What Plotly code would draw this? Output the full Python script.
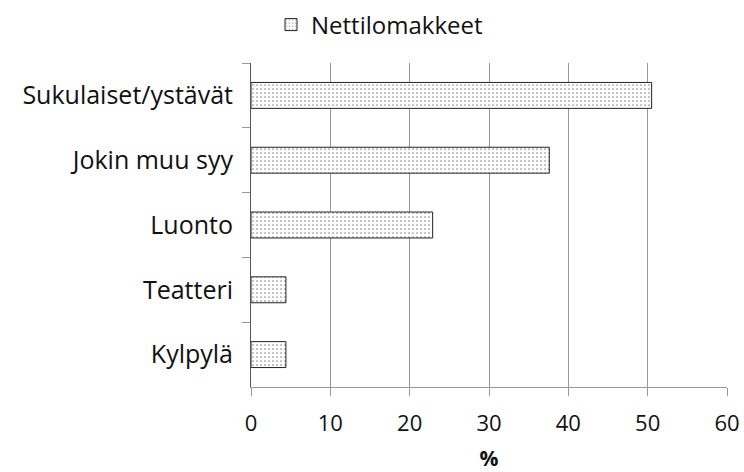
import plotly.graph_objects as go

categories = ["Sukulaiset/ystävät", "Jokin muu syy", "Luonto", "Teatteri", "Kylpylä"]
values = [50.5, 37.6, 22.9, 4.4, 4.4]
series_name = "Nettilomakkeet"
x_ticks = [0, 10, 20, 30, 40, 50, 60]

font_family = "Open Sans, Liberation Sans, sans-serif"

fig = go.Figure()
fig.add_trace(go.Bar(
    y=categories,
    x=values,
    orientation="h",
    name=series_name,
    width=0.4,
    marker=dict(
        color="white",
        line=dict(color="#222222", width=1),
        pattern=dict(shape=".", fgcolor="#222222", bgcolor="white", size=4, solidity=0.15),
    ),
    showlegend=True,
))

fig.update_layout(
    width=744, height=472,
    margin=dict(l=251, r=17, t=63, b=85, autoexpand=False),
    paper_bgcolor="white", plot_bgcolor="white",
    font=dict(family=font_family, size=22, color="#111111"),
    showlegend=True,
    legend=dict(
        orientation="h", x=(271 - 251) / 476, xanchor="left",
        yref="container", y=1 - 25 / 472, yanchor="middle",
        font=dict(size=24), itemwidth=30,
    ),
    bargap=0.6,
)
fig.update_xaxes(
    range=[0, 60], tickvals=x_ticks, ticktext=[str(t) for t in x_ticks],
    showgrid=True, gridcolor="#999999", gridwidth=1,
    showline=True, linecolor="#999999", linewidth=1,
    ticks="outside", ticklen=8, tickcolor="#999999",
    zeroline=False, ticklabelstandoff=9, automargin=False,
    tickfont=dict(size=22),
    title=dict(text="<b>%</b>", font=dict(size=21), standoff=14),
)
fig.update_yaxes(
    categoryorder="array", categoryarray=categories, autorange="reversed",
    showline=True, linecolor="#555555", linewidth=1,
    ticks="outside", ticklen=8, tickcolor="#999999", tickson="boundaries",
    showgrid=False, ticklabelstandoff=12, automargin=False,
    tickfont=dict(size=25),
)

fig.write_html(
    "out.html",
    config={"displayModeBar": False},
    post_script="document.body.style.margin='0';document.body.style.overflow='hidden';",
)
